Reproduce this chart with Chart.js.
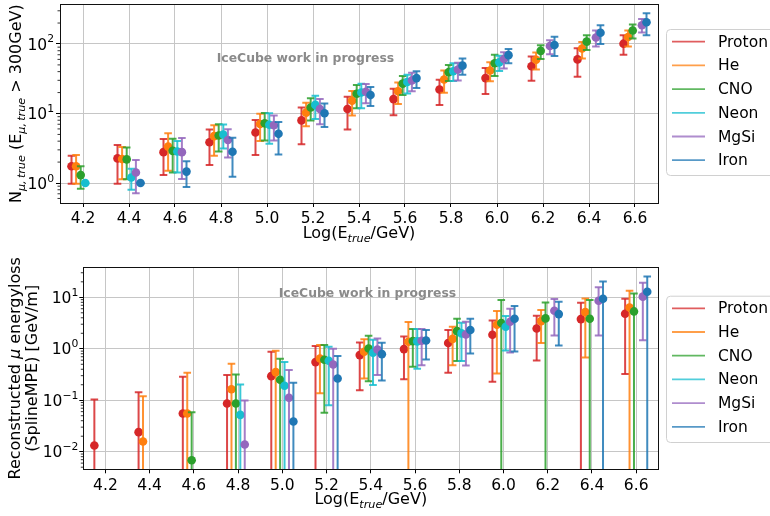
<!DOCTYPE html>
<html><head><meta charset="utf-8">
<script src="https://cdn.jsdelivr.net/npm/chart.js@4/dist/chart.umd.min.js"></script>
<style>
html,body{margin:0;padding:0;background:#fff;overflow:hidden;width:770px;height:516px;}
canvas{position:absolute;left:0;}
#c1{top:0}
#c2{top:258px}
</style></head><body>
<canvas id="c1" width="770" height="258"></canvas>
<canvas id="c2" width="770" height="258"></canvas>
<script>
// ---------------- DATA ----------------
const species = ['Proton', 'He', 'CNO', 'Neon', 'MgSi', 'Iron'];
const logE = [4.15, 4.35, 4.55, 4.75, 4.95, 5.15, 5.35, 5.55, 5.75, 5.95, 6.15, 6.35, 6.55];
const speciesShift = [0, 0.02, 0.04, 0.06, 0.08, 0.10];   // in Log(E) units
const xTicks = [4.2, 4.4, 4.6, 4.8, 5.0, 5.2, 5.4, 5.6, 5.8, 6.0, 6.2, 6.4, 6.6];
const nMuTicks = [1, 10, 100];
const eLossTicks = [0.01, 0.1, 1, 10];

// Top panel: N_mu,true (E_mu,true > 300 GeV)
const nMuVal = [
  [1.74, 2.26, 2.78, 3.85, 5.33, 7.96, 11.6, 16.1, 22.1, 32.3, 47.8, 60.0, 101],   // Proton
  [1.74, 2.21, 3.34, 4.73, 7.06, 10.3, 15.3, 20.9, 30.9, 41.5, 59.4, 85.9, 126],   // He
  [1.30, 2.19, 2.90, 4.83, 7.22, 12.2, 19.2, 26.9, 39.3, 52.7, 79.6, 108, 156],    // CNO
  [1.00, 1.20, 2.84, 4.99, 6.90, 13.3, 20.0, 28.4, 40.6, 54.4, null, null, null],  // Neon
  [null, 1.42, 2.78, 4.15, 6.76, 11.6, 20.5, 29.9, 42.9, 60.7, 93.7, 124, 186],    // MgSi
  [null, 1.00, 1.46, 2.81, 5.10, 10.1, 18.4, 32.3, 48.8, 69.1, 96.8, 145, 205]     // Iron
];
const nMuLow = [
  [0.98, 0.98, 1.30, 1.82, 2.52, 3.60, 5.87, 9.47, 13.3, 19.0, 29.6, 33.7, 69.9],
  [0.98, 1.13, 1.50, 2.46, 4.02, 6.55, 9.37, 13.7, 19.8, 29.0, 42.9, 62.0, 91.6],
  [0.83, 1.13, 1.42, 2.84, 4.10, 7.96, 11.9, 18.4, 29.3, 34.5, 60.7, 82.2, 120],
  [1.00, 0.80, 1.42, 3.13, 3.68, 8.30, 11.9, 19.4, 29.3, 41.0, null, null, null],
  [null, 0.71, 1.14, 2.33, 4.10, 7.00, 14.0, 20.9, 29.9, 44.3, 71.4, 91.6, 146],
  [null, 1.00, 0.88, 1.23, 2.57, 6.40, 12.8, 23.3, 36.0, 52.7, 66.9, 100, 133]
];
const nMuHigh = [
  [2.46, 3.52, 4.29, 5.87, 8.05, 12.2, 17.4, 22.6, 30.6, 45.3, 66.2, 86.8, 133],
  [2.52, 3.30, 5.21, 6.76, 9.90, 14.3, 21.1, 27.8, 41.5, 54.4, 75.4, 107, 156],
  [1.74, 3.23, 4.33, 6.99, 10.2, 16.5, 25.7, 34.5, 49.9, 69.9, 95.8, 133, 190],
  [1.00, 1.60, 4.02, 6.93, 10.1, 18.0, 26.8, 36.0, 52.7, 67.6, null, null, null],
  [null, 2.14, 4.43, 5.94, 9.37, 16.1, 26.5, 38.5, 53.8, 76.2, 113, 156, 228],
  [null, 1.00, 2.05, 4.48, 7.54, 13.9, 24.1, 40.6, 62.0, 85.0, 127, 186, 277]
];

// Bottom panel: reconstructed mu energy loss (SplineMPE) [GeV/m]; low bound 0 = reaches below axis
const eLossVal = [
  [0.0132, 0.024, 0.0553, 0.0865, 0.294, 0.551, 0.753, 0.985, 1.29, 1.87, 2.48, 3.77, 4.79],
  [null, 0.0158, 0.0553, 0.164, 0.352, 0.649, 0.875, 1.37, 1.56, 2.93, 3.45, 5.16, 6.36],
  [null, null, 0.00684, 0.0865, 0.250, 0.611, 1.01, 1.41, 2.20, 3.16, 3.89, 3.83, 5.32],
  [null, null, null, 0.052, 0.191, 0.584, 0.836, 1.39, 1.99, 2.68, null, null, null],
  [null, null, null, 0.0138, 0.1115, 0.496, 0.97, 1.43, 1.90, 3.35, 5.48, 8.57, 10.3],
  [null, null, null, null, 0.0387, 0.265, 0.787, 1.45, 2.31, 3.83, 4.72, 9.38, 12.8]
];
const eLossLow = [
  [0, 0, 0, 0, 0, 0, 0.157, 0.257, 0.341, 0.228, 0.593, 0, 0.322],
  [null, 0, 0, 0, 0, 0.137, 0.265, 0, 0.481, 0.331, 1.29, 0.679, 0],
  [null, null, 0, 0, 0, 0.057, 0.235, 0.447, 0.576, 0, 0, 0, 0],
  [null, null, null, 0, 0, 0.0803, 0.197, 0.408, 0.576, 0.93, null, null, null],
  [null, null, null, 0, 0, 0, 0.308, 0.481, 0.474, 0.849, 1.82, 1.82, 1.47],
  [null, null, null, null, 0, 0, 0.242, 0.621, 0.811, 0.887, 1.16, 0, 0]
];
const eLossHigh = [
  [0.1035, 0.1436, 0.2856, 0.3076, 0.875, 1.127, 1.328, 1.74, 2.31, 3.56, 4.38, 7.84, 9.38],
  [null, 0.120, 0.341, 0.511, 0.914, 1.18, 1.54, 3.30, 2.68, 5.40, 5.65, 9.52, 13.4],
  [null, null, 0.0587, 0.317, 0.639, 1.18, 1.79, 2.41, 3.83, 8.84, 7.96, 8.84, 11.9],
  [null, null, null, 0.203, 0.551, 1.094, 1.50, 2.41, 3.20, 4.32, null, null, null],
  [null, null, null, 0.099, 0.385, 1.00, 1.59, 2.41, 3.35, 6.00, 9.24, 15.6, 19.2],
  [null, null, null, null, 0.218, 0.72, 1.31, 2.31, 3.83, 6.76, 8.20, 20.4, 25.5]
];
const watermark = 'IceCube work in progress';

// ---------------- STYLE ----------------
const colors = ['#d62728', '#ff7f0e', '#2ca02c', '#17becf', '#9467bd', '#1f77b4'];
function withAlpha(hex, a) {
  const n = parseInt(hex.slice(1), 16);
  return `rgba(${(n >> 16) & 255},${(n >> 8) & 255},${n & 255},${a})`;
}
const FAM = '"DejaVu Sans", sans-serif';
const TICK_PX = 15.5, LABEL_PX = 16, LEG_PX = 15.5;
const fMain = LABEL_PX + 'px ' + FAM;
const fSubIt = 'italic ' + (LABEL_PX * 0.7).toFixed(1) + 'px ' + FAM;
const fTick = TICK_PX + 'px ' + FAM;
const fSup = (TICK_PX * 0.7).toFixed(1) + 'px ' + FAM;

function drawRich(ctx, segs, x, y, align) {
  let w = 0;
  segs.forEach(s => { ctx.font = s.f; w += ctx.measureText(s.t).width; });
  let cx = align === 'center' ? x - w / 2 : x;
  segs.forEach(s => { ctx.font = s.f; ctx.fillText(s.t, cx, y + (s.dy || 0)); cx += ctx.measureText(s.t).width; });
}
function roundRect(ctx, x, y, w, h, r) {
  ctx.beginPath();
  ctx.moveTo(x + r, y); ctx.lineTo(x + w - r, y); ctx.quadraticCurveTo(x + w, y, x + w, y + r);
  ctx.lineTo(x + w, y + h - r); ctx.quadraticCurveTo(x + w, y + h, x + w - r, y + h);
  ctx.lineTo(x + r, y + h); ctx.quadraticCurveTo(x, y + h, x, y + h - r);
  ctx.lineTo(x, y + r); ctx.quadraticCurveTo(x, y, x + r, y);
  ctx.closePath();
}

function makePanelPlugin(cfg) {
  return {
    id: 'panel',
    beforeDatasetsDraw(chart) {
      const ctx = chart.ctx;
      ctx.save();
      ctx.font = 'bold 12.4px ' + FAM;
      ctx.fillStyle = '#8a8a8a';
      ctx.textBaseline = 'middle';
      ctx.textAlign = 'left';
      ctx.fillText(watermark, cfg.wmX, cfg.wmY);
      ctx.restore();
    },
    beforeDatasetDraw(chart, args) {
      const ds = chart.data.datasets[args.index];
      const { ctx, chartArea: a } = chart;
      const xs = chart.scales.x, ys = chart.scales.y;
      ctx.save();
      ctx.beginPath(); ctx.rect(a.left, a.top, a.right - a.left, a.bottom - a.top); ctx.clip();
      ctx.strokeStyle = ds.errColor;
      ctx.lineWidth = 2;
      ctx.lineCap = 'butt';
      ds.data.forEach((p, j) => {
        if (p.y == null) return;
        const px = xs.getPixelForValue(p.x);
        const lo = ds.errLow[j], hi = ds.errHigh[j];
        const yHi = ys.getPixelForValue(hi);
        const yLo = lo > 0 ? ys.getPixelForValue(lo) : a.bottom + 10;
        ctx.beginPath(); ctx.moveTo(px, yLo); ctx.lineTo(px, yHi); ctx.stroke();
        ctx.beginPath(); ctx.moveTo(px - 3.8, yHi); ctx.lineTo(px + 3.8, yHi); ctx.stroke();
        if (lo > 0) { ctx.beginPath(); ctx.moveTo(px - 3.8, yLo); ctx.lineTo(px + 3.8, yLo); ctx.stroke(); }
      });
      ctx.restore();
    },
    afterDraw(chart) {
      const { ctx, chartArea: a } = chart;
      const ys = chart.scales.y;
      ctx.save();
      // frame
      ctx.strokeStyle = '#111'; ctx.lineWidth = 1;
      ctx.strokeRect(Math.round(a.left) + 0.5, Math.round(a.top) + 0.5, Math.round(a.right - a.left), Math.round(a.bottom - a.top));
      // minor log ticks
      ctx.lineWidth = 0.8; ctx.strokeStyle = '#000';
      for (let e = Math.floor(Math.log10(ys.min)); e <= Math.ceil(Math.log10(ys.max)); e++) {
        for (let k = 2; k <= 9; k++) {
          const v = k * Math.pow(10, e);
          if (v < ys.min || v > ys.max) continue;
          const py = ys.getPixelForValue(v);
          ctx.beginPath(); ctx.moveTo(a.left - 2.5, py); ctx.lineTo(a.left, py); ctx.stroke();
        }
      }
      // y tick labels 10^n
      ctx.fillStyle = '#000'; ctx.textBaseline = 'alphabetic'; ctx.textAlign = 'left';
      ys.ticks.forEach(t => {
        const py = ys.getPixelForValue(t.value);
        const ex = Math.round(Math.log10(t.value));
        const exStr = ex < 0 ? '\u2212' + (-ex) : String(ex);
        ctx.font = fSup; const we = ctx.measureText(exStr).width;
        ctx.font = fTick; const wb = ctx.measureText('10').width;
        const right = a.left - cfg.yLabGap;
        ctx.fillText('10', right - we - wb, py + 5.6);
        ctx.font = fSup; ctx.fillText(exStr, right - we, py - 1.5);
      });
      // x title
      const cxm = (a.left + a.right) / 2;
      drawRich(ctx, [
        { t: 'Log(E', f: fMain }, { t: 'true', f: fSubIt, dy: 3.5 }, { t: '/GeV)', f: fMain }
      ], cxm, cfg.xTitleY, 'center');
      // y title (rotated)
      const cym = (a.top + a.bottom) / 2;
      cfg.yTitle.forEach(line => {
        ctx.save();
        ctx.translate(line.x, cym);
        ctx.rotate(-Math.PI / 2);
        drawRich(ctx, line.segs, 0, 0, 'center');
        ctx.restore();
      });
      // legend
      ctx.fillStyle = 'rgba(255,255,255,0.85)'; ctx.strokeStyle = '#d0d0d0'; ctx.lineWidth = 1;
      roundRect(ctx, cfg.legX + 0.5, cfg.legTop + 0.5, 200, cfg.legBottom - cfg.legTop, 4);
      ctx.fill(); ctx.stroke();
      ctx.font = LEG_PX + 'px ' + FAM; ctx.textBaseline = 'middle'; ctx.fillStyle = '#000';
      species.forEach((name, i) => {
        const yy = cfg.legFirst + i * cfg.legStep;
        ctx.strokeStyle = withAlpha(colors[i], 0.75); ctx.lineWidth = 1.8;
        ctx.beginPath(); ctx.moveTo(cfg.legX + 6, yy); ctx.lineTo(cfg.legX + 39, yy); ctx.stroke();
        ctx.fillText(name, cfg.legX + 52, yy + 1);
      });
      ctx.restore();
    }
  };
}

function buildPanel(canvasId, vals, lows, highs, yMin, yMax, yTicks, cfg) {
  return new Chart(document.getElementById(canvasId), {
    type: 'scatter',
    data: {
      datasets: species.map((name, i) => ({
        label: name,
        data: logE.map((e, j) => ({ x: +(e + speciesShift[i]).toFixed(3), y: vals[i][j] })),
        errLow: lows[i],
        errHigh: highs[i],
        errColor: withAlpha(colors[i], 0.85),
        backgroundColor: colors[i],
        borderWidth: 0,
        pointRadius: 4.3,
        pointHoverRadius: 4.3,
        order: species.length - i
      }))
    },
    options: {
      responsive: false, animation: false, devicePixelRatio: 1, events: [],
      layout: { padding: { left: 0, right: cfg.padRight, top: cfg.padTop, bottom: 0 } },
      plugins: { legend: { display: false }, tooltip: { enabled: false } },
      scales: {
        x: {
          type: 'linear', min: 4.1, max: 6.7,
          afterBuildTicks: s => { s.ticks = xTicks.map(v => ({ value: v })); },
          afterFit: s => { s.height = cfg.xAxisH; },
          ticks: { callback: v => Number(v).toFixed(1), font: { family: 'DejaVu Sans', size: TICK_PX }, color: '#000', padding: 3, maxRotation: 0, autoSkip: false },
          grid: { color: '#c6c6c6', lineWidth: 1, tickColor: '#000', tickLength: 4, tickWidth: 1 },
          border: { display: true, color: '#111', width: 1 }
        },
        y: {
          type: 'logarithmic', min: yMin, max: yMax,
          afterBuildTicks: s => { s.ticks = yTicks.map(v => ({ value: v })); },
          afterFit: s => { s.width = cfg.yAxisW; },
          ticks: { display: false },
          grid: { color: '#c6c6c6', lineWidth: 1, tickColor: '#000', tickLength: 4, tickWidth: 1 },
          border: { display: true, color: '#111', width: 1 }
        }
      }
    },
    plugins: [makePanelPlugin(cfg)]
  });
}

buildPanel('c1', nMuVal, nMuLow, nMuHigh, 0.516, 372, nMuTicks, {
  padRight: 112, padTop: 1, xAxisH: 55, yAxisW: 60, yLabGap: 6,
  wmX: 216.7, wmY: 58.3, xTitleY: 238,
  yTitle: [{ x: 21, segs: [
    { t: 'N', f: fMain }, { t: '\u03bc,\u2009true', f: fSubIt, dy: 3.5 },
    { t: ' (E', f: fMain }, { t: '\u03bc,\u2009true', f: fSubIt, dy: 3.5 },
    { t: ' > 300GeV)', f: fMain }] }],
  legX: 666, legTop: 29, legBottom: 175, legFirst: 41.7, legStep: 23.7
});

buildPanel('c2', eLossVal, eLossLow, eLossHigh, 0.00455, 38.3, eLossTicks, {
  padRight: 111.7, padTop: 9.3, xAxisH: 46.7, yAxisW: 83.3, yLabGap: 5,
  wmX: 278.7, wmY: 35.3, xTitleY: 246,
  yTitle: [
    { x: 19.5, segs: [{ t: 'Reconstructed ', f: fMain }, { t: '\u03bc', f: 'italic ' + fMain }, { t: ' energyloss', f: fMain }] },
    { x: 37, segs: [{ t: '(SplineMPE) [GeV/m]', f: fMain }] }
  ],
  legX: 666, legTop: 37.7, legBottom: 184, legFirst: 50.3, legStep: 23.7
});
</script>
</body></html>
